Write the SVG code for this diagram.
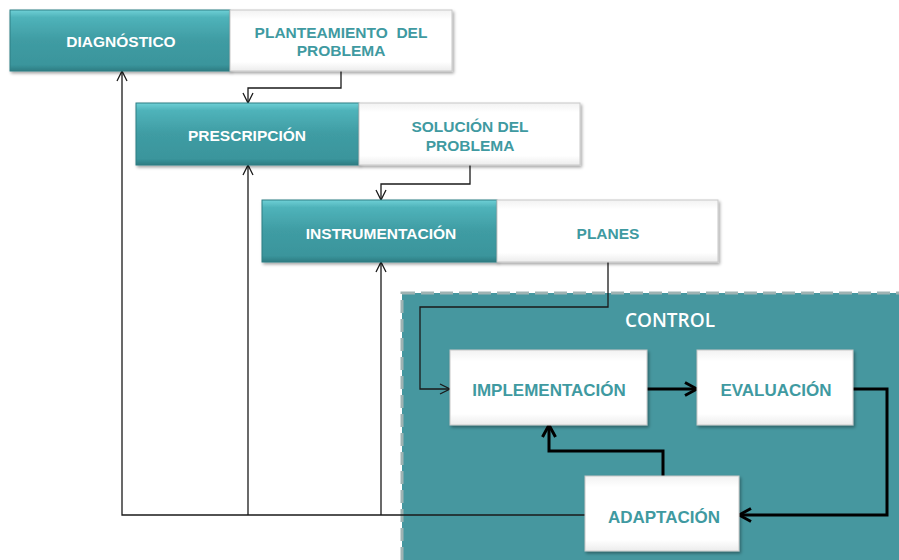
<svg xmlns="http://www.w3.org/2000/svg" width="899" height="560" viewBox="0 0 899 560">
<style>
.teal{fill:url(#tg);stroke:#2f7e84;stroke-width:1}
.wht{fill:url(#wg);stroke:#c8c8c8;stroke-width:1}
.tw{font-family:"Liberation Sans",Arial,sans-serif;font-weight:bold;font-size:15.5px;fill:#ffffff;text-anchor:middle}
.tt{font-family:"Liberation Sans",Arial,sans-serif;font-weight:bold;font-size:15.5px;fill:#3f9aa1;text-anchor:middle}
.tc{font-family:"Liberation Sans",Arial,sans-serif;font-weight:bold;font-size:17px;fill:#3f9aa1;text-anchor:middle}
.thin{fill:none;stroke:#1a1a1a;stroke-width:1.3}
.thick{fill:none;stroke:#000;stroke-width:3}
</style>
<defs>
<linearGradient id="tg" x1="0" y1="0" x2="0" y2="1">
<stop offset="0" stop-color="#6fd0d6"/>
<stop offset="0.12" stop-color="#4fb3ba"/>
<stop offset="0.5" stop-color="#3f9ca3"/>
<stop offset="0.9" stop-color="#3a959c"/>
<stop offset="1" stop-color="#2d7c82"/>
</linearGradient>
<linearGradient id="wg" x1="0" y1="0" x2="0" y2="1">
<stop offset="0" stop-color="#f2f2f2"/>
<stop offset="0.15" stop-color="#ffffff"/>
<stop offset="0.85" stop-color="#ffffff"/>
<stop offset="1" stop-color="#ececec"/>
</linearGradient>
<filter id="sh" x="-10%" y="-10%" width="130%" height="140%">
<feDropShadow dx="1.5" dy="2" stdDeviation="1.5" flood-color="#000" flood-opacity="0.35"/>
</filter>
<marker id="ah" viewBox="0 0 12 12" refX="11" refY="6" markerWidth="12" markerHeight="12" markerUnits="userSpaceOnUse" orient="auto">
<path d="M1,1 L11,6 L1,11" fill="none" stroke="#1a1a1a" stroke-width="1.3"/>
</marker>
<marker id="ahk" viewBox="0 0 16 16" refX="14" refY="8" markerWidth="16" markerHeight="16" markerUnits="userSpaceOnUse" orient="auto">
<path d="M2,1.5 L14,8 L2,14.5" fill="none" stroke="#000" stroke-width="3"/>
</marker>
</defs>
<rect width="899" height="560" fill="#ffffff"/>
<g id="control">
<rect x="402" y="293" width="500" height="270" fill="#46979f" stroke="#9fb3b3" stroke-width="3" stroke-dasharray="13 6"/>
<text x="670" y="327" font-family="'Open Sans','Noto Sans',sans-serif" font-size="19" font-weight="600" fill="#ffffff" text-anchor="middle">CONTROL</text>
</g>
<g id="connectors">
<polyline class="thin" points="341,71 341,88 248,88 248,103" marker-end="url(#ah)"/>
<polyline class="thin" points="470,165 470,184 381,184 381,200" marker-end="url(#ah)"/>
<polyline class="thin" points="608,262 608,307 420,307 420,389 450,389" marker-end="url(#ah)"/>
<polyline class="thin" points="585,515 122,515 122,71" marker-end="url(#ah)"/>
<polyline class="thin" points="248,515 248,165" marker-end="url(#ah)"/>
<polyline class="thin" points="381,515 381,262" marker-end="url(#ah)"/>
<polyline class="thick" points="647,389 697,389" marker-end="url(#ahk)"/>
<polyline class="thick" points="853,389 887,389 887,515 739,515" marker-end="url(#ahk)"/>
<polyline class="thick" points="663,476 663,451 549,451 549,425" marker-end="url(#ahk)"/>
</g>
<g id="diagnostico">
<rect class="teal" x="10" y="10" width="220" height="61" filter="url(#sh)"/>
<text class="tw" x="121" y="47">DIAGNÓSTICO</text>
</g>
<g id="planteamiento">
<rect class="wht" x="230" y="10" width="222" height="61" filter="url(#sh)"/>
<text class="tt" x="341" y="38" xml:space="preserve">PLANTEAMIENTO  DEL</text>
<text class="tt" x="341" y="56">PROBLEMA</text>
</g>
<g id="prescripcion">
<rect class="teal" x="136" y="103" width="223" height="62" filter="url(#sh)"/>
<text class="tw" x="247" y="141">PRESCRIPCIÓN</text>
</g>
<g id="solucion">
<rect class="wht" x="359" y="103" width="221" height="62" filter="url(#sh)"/>
<text class="tt" x="470" y="132">SOLUCIÓN DEL</text>
<text class="tt" x="470" y="151">PROBLEMA</text>
</g>
<g id="instrumentacion">
<rect class="teal" x="262" y="200" width="235" height="62" filter="url(#sh)"/>
<text class="tw" x="381" y="239">INSTRUMENTACIÓN</text>
</g>
<g id="planes">
<rect class="wht" x="497" y="200" width="221" height="62" filter="url(#sh)"/>
<text class="tt" x="608" y="239">PLANES</text>
</g>
<g id="implementacion">
<rect class="wht" x="450" y="350" width="197" height="75" filter="url(#sh)"/>
<text class="tc" x="549" y="396">IMPLEMENTACIÓN</text>
</g>
<g id="evaluacion">
<rect class="wht" x="697" y="350" width="156" height="75" filter="url(#sh)"/>
<text class="tc" x="776" y="396">EVALUACIÓN</text>
</g>
<g id="adaptacion">
<rect class="wht" x="585" y="476" width="154" height="75" filter="url(#sh)"/>
<text class="tc" x="664" y="523">ADAPTACIÓN</text>
</g>
</svg>
